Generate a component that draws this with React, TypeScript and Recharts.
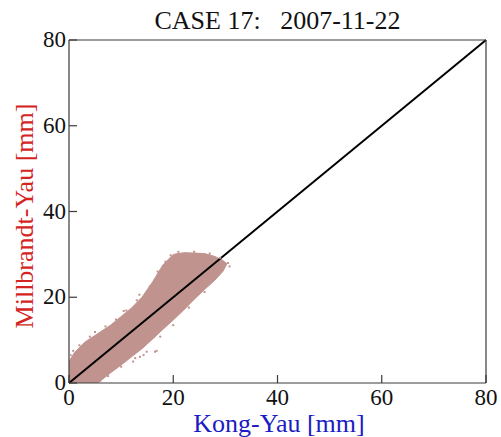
import {
  Area,
  ComposedChart,
  ReferenceLine,
  Scatter,
  XAxis,
  YAxis,
} from "recharts";

// Outline of the point cloud (Kong-Yau on x, Millbrandt-Yau low/high on y)
const bandX = [0, 1, 3, 5.5, 8, 10, 12, 14, 16, 18, 20, 22, 24, 26, 28, 29.5, 30.3];
const bandLow = [0, 0, 0, 0, 2.4, 4.2, 6.1, 8, 10.2, 12.5, 14.7, 17, 19.5, 21.8, 24, 26, 27.8];
const bandHigh = [5, 7, 9.5, 11.5, 13.5, 15.5, 17.5, 20, 23.5, 27.5, 30, 30.4, 30.3, 30.2, 29.5, 28.6, 27.8];

// Loose points along the edges of the cloud
const strayX = [0.3, 0.8, 2, 4, 5, 7, 9, 10.5, 11, 13, 13.5, 15.5, 17, 18.5, 19.5, 21, 24, 27, 29, 30.5, 30.8,
  12.3, 12.7, 13.6, 14.3, 14.9, 16.5, 16.8, 17.5, 20, 23, 26, 6, 7.5, 10];
const strayY = [6.5, 7.5, 8.8, 10.8, 11.9, 13.2, 14.8, 16.8, 16.9, 19.3, 20.6, 22.5, 26, 28.3, 29.8, 30.6, 30.6, 30.2, 29.2, 28, 27.2,
  5.0, 5.8, 6.1, 6.5, 7.3, 7.3, 7.5, 10.8, 13.5, 17.6, 21.2, 0.5, 1.6, 3.8];

// 1:1 reference line
const diagonal = [0, 80];

const majorTicks = [0, 20, 40, 60, 80];
const minorTicks = [10, 30, 50, 70];

const bandRows = bandX.map((x, i) => ({ x, range: [bandLow[i], bandHigh[i]] }));
const strayPoints = strayX.map((x, i) => ({ x, y: strayY[i] }));

const FONT = "Liberation Serif";
const CLOUD = "#c0938f";
const FRAME = "#3a3a3a";

function bottomLabel(props: any) {
  const { x, payload } = props;
  return (
    <text x={x} y={405} textAnchor="middle" fontFamily={FONT} fontSize={23} fill="#111">
      {payload.value}
    </text>
  );
}

function leftLabel(props: any) {
  const { y, payload } = props;
  return (
    <text x={66} y={y + 7} textAnchor="end" fontFamily={FONT} fontSize={23} fill="#111">
      {payload.value}
    </text>
  );
}

// Inward ticks: a negative tickSize turns the tick line into the plot
function axisProps(ticks: number[], size: number, line: boolean) {
  return {
    type: "number" as const,
    domain: [0, 80],
    allowDataOverflow: true,
    ticks,
    interval: 0 as const,
    tickSize: -size,
    tickMargin: 0,
    tickLine: { stroke: FRAME, strokeWidth: 1.2 },
    axisLine: line ? { stroke: FRAME, strokeWidth: 1.2 } : false,
  };
}

const hiddenShape = () => <g />;

export default function App() {
  return (
    <div style={{ position: "absolute", left: 0, top: 0, width: 501, height: 437, background: "#fff" }}>
      <ComposedChart
        width={501}
        height={437}
        data={bandRows}
        margin={{ top: 38, right: 13, bottom: 52, left: 67 }}
      >
        <XAxis {...axisProps(majorTicks, 8, true)} dataKey="x" height={1} tick={bottomLabel} />
        <XAxis {...axisProps(minorTicks, 5, false)} xAxisId="bm" dataKey="x" height={1} tick={false} />
        <XAxis {...axisProps(majorTicks, 8, true)} xAxisId="tM" orientation="top" dataKey="x" height={1} tick={false} />
        <XAxis {...axisProps(minorTicks, 5, false)} xAxisId="tm" orientation="top" dataKey="x" height={1} tick={false} />
        <YAxis {...axisProps(majorTicks, 8, true)} width={1} tick={leftLabel} />
        <YAxis {...axisProps(minorTicks, 5, false)} yAxisId="lm" width={1} tick={false} />
        <YAxis {...axisProps(majorTicks, 8, true)} yAxisId="rM" orientation="right" width={1} tick={false} />
        <YAxis {...axisProps(minorTicks, 5, false)} yAxisId="rm" orientation="right" width={1} tick={false} />
        <Area
          type="linear"
          dataKey="range"
          stroke={CLOUD}
          strokeWidth={1}
          fill={CLOUD}
          fillOpacity={1}
          dot={false}
          activeDot={false}
          isAnimationActive={false}
        />
        <Scatter
          data={strayPoints}
          dataKey="y"
          fill={CLOUD}
          isAnimationActive={false}
          shape={(p: any) => <rect x={p.cx - 1} y={p.cy - 1} width={2} height={2} fill={CLOUD} />}
        />
        {/* invisible copies so the extra tick axes get a proper scale */}
        <Scatter data={strayPoints} dataKey="y" xAxisId="bm" yAxisId="lm" shape={hiddenShape} isAnimationActive={false} />
        <Scatter data={strayPoints} dataKey="y" xAxisId="tM" yAxisId="rM" shape={hiddenShape} isAnimationActive={false} />
        <Scatter data={strayPoints} dataKey="y" xAxisId="tm" yAxisId="rm" shape={hiddenShape} isAnimationActive={false} />
        <ReferenceLine
          segment={[
            { x: diagonal[0], y: diagonal[0] },
            { x: diagonal[1], y: diagonal[1] },
          ]}
          stroke="#000"
          strokeWidth={2}
        />
      </ComposedChart>
      <svg
        width={501}
        height={437}
        style={{ position: "absolute", left: 0, top: 0, pointerEvents: "none" }}
      >
        <text
          x={277.5}
          y={29}
          textAnchor="middle"
          fontFamily={FONT}
          fontSize={26}
          fill="#111"
          style={{ whiteSpace: "pre" }}
        >
          {"CASE 17:   2007-11-22"}
        </text>
        <text x={279} y={432} textAnchor="middle" fontFamily={FONT} fontSize={26} fill="#1c1cc4">
          Kong-Yau [mm]
        </text>
        <text
          x={33}
          y={216}
          textAnchor="middle"
          fontFamily={FONT}
          fontSize={26}
          fill="#d42424"
          transform="rotate(-90 33 216)"
        >
          Millbrandt-Yau [mm]
        </text>
      </svg>
    </div>
  );
}
